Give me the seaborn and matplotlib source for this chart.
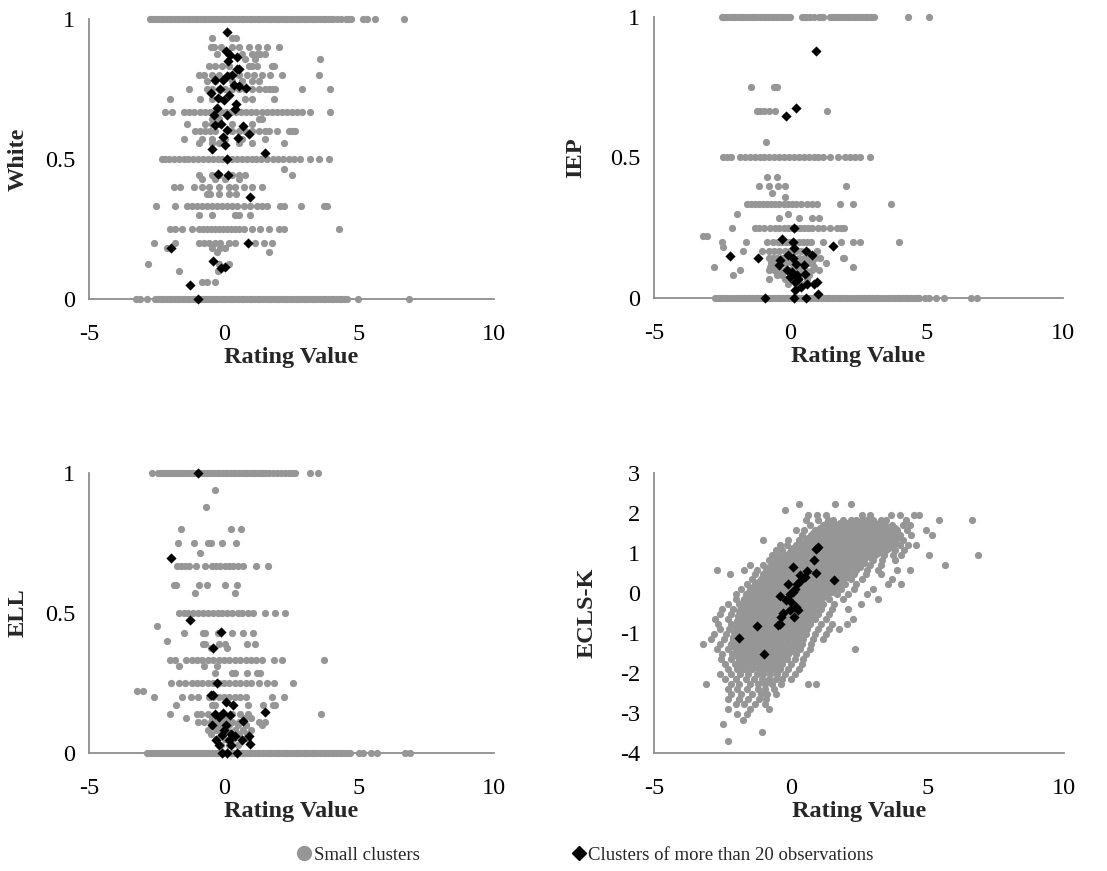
import pandas as pd
import matplotlib.pyplot as plt
import seaborn as sns
from matplotlib.lines import Line2D

# ---- White: small clusters, x positions grouped by share level ----
white_rows = {
    1.0: [-2.75, -2.65, -2.55, -2.45, -2.35, -2.25, -2.15, -2.05, -1.95, -1.85, -1.75, -1.65, -1.55, -1.45,
          -1.35, -1.25, -1.15, -1.05, -0.95, -0.85, -0.75, -0.65, -0.55, -0.45, -0.35, -0.25, -0.15, -0.05,
          0.05, 0.15, 0.25, 0.35, 0.45, 0.55, 0.65, 0.75, 0.85, 0.95, 1.05, 1.15, 1.25, 1.35, 1.45, 1.55,
          1.65, 1.75, 1.85, 1.95, 2.05, 2.15, 2.25, 2.35, 2.45, 2.55, 2.65, 2.75, 2.85, 2.95, 3.05, 3.15,
          3.25, 3.35, 3.45, 3.55, 3.65, 3.75, 3.85, 3.95, 4.05, 4.2, 4.35, 4.5, 4.6, 4.7, 5.15, 5.3, 5.6,
          6.65],
    0.933: [-0.44, 0.3, 0.44],
    0.9: [-0.5, -0.44, -0.38, -0.1, 0.3, 0.54, 0.91, 1.26, 1.6, 2.02],
    0.875: [-0.25, 0.18, 0.67, 1.04, 1.23, 1.33, 1.51],
    0.857: [0.79, 1.16, 3.57],
    0.833: [-0.57, -0.32, -0.07, 0.17, 0.91, 1.04, 1.23, 1.78, 1.84],
    0.8: [-0.94, -0.75, -0.44, -0.2, 0.17, 0.54, 0.86, 1.11, 1.41, 1.72, 2.15, 3.5],
    0.778: [-0.63, -0.32, 0.3, 0.67, 1.04, 1.28],
    0.75: [-1.31, -0.63, -0.44, -0.2, 0.05, 0.3, 0.54, 0.79, 1.04, 1.28, 1.53, 1.65, 1.78, 1.9, 2.89, 3.91],
    0.714: [-1.99, -0.88, -0.44, -0.14, 0.79, 1.04, 1.84],
    0.667: [-2.17, -1.93, -1.49, -1.3, -1.1, -0.9, -0.7, -0.51, -0.32, -0.13, 0.06, 0.25, 0.44, 0.63, 0.82,
            1.01, 1.2, 1.39, 1.58, 1.77, 1.96, 2.15, 2.34, 2.53, 2.7, 2.89, 3.2, 3.94],
    0.643: [-0.44, -0.2, 1.28, 1.41],
    0.625: [-1.37, -0.69, -0.44, -0.2, 0.3, 1.04],
    0.6: [-1.06, -0.88, -0.69, -0.51, -0.32, 0.3, 0.54, 0.79, 1.04, 1.28, 1.53, 1.65, 1.96, 2.4, 2.52, 2.64],
    0.571: [-1.49, -0.81, -0.44, 0.05, 0.67, 1.53],
    0.556: [-0.94, -0.44, -0.2, 0.54, 1.04, 2.21],
    0.5: [-2.3, -2.17, -2.05, -1.86, -1.68, -1.5, -1.32, -1.14, -0.96, -0.78, -0.6, -0.42, -0.24, -0.06,
          0.12, 0.3, 0.48, 0.66, 0.84, 1.02, 1.2, 1.38, 1.59, 1.8, 2.0, 2.2, 2.4, 2.6, 2.8, 3.2, 3.51, 3.88],
    0.464: [2.21],
    0.444: [-0.94, -0.44, -0.2, 0.3, 0.54, 0.79, 2.52],
    0.429: [-0.81, -0.32, 0.05, 0.54],
    0.4: [-1.86, -1.62, -1.12, -0.81, -0.57, -0.2, 0.17, 0.42, 0.73, 1.04, 1.41],
    0.375: [-0.63, -0.51, -0.2, 0.17, 0.44],
    0.333: [-2.51, -1.8, -1.37, -1.19, -1.0, -0.81, -0.63, -0.44, -0.26, -0.07, 0.11, 0.3, 0.48, 0.73,
            0.98, 1.22, 1.41, 1.59, 2.09, 2.21, 2.86, 3.69, 3.81],
    0.3: [-0.94, -0.44, 0.42, 0.54, 0.98],
    0.25: [-1.99, -1.8, -1.56, -1.19, -0.94, -0.79, -0.64, -0.49, -0.34, -0.19, -0.04, 0.11, 0.26, 0.41,
           0.56, 0.73, 1.04, 1.35, 1.65, 2.02, 2.21, 4.27],
    0.2: [-2.6, -1.8, -0.94, -0.75, -0.57, -0.32, -0.14, 0.17, 0.42, 1.16, 1.47, 1.78],
    0.182: [-2.11, -0.44, -0.14, 0.05],
    0.167: [-0.26, 1.65],
    0.125: [-2.83, -0.2, 0.17],
    0.1: [-1.68, -0.23],
    0.0625: [-0.81, -0.63, -0.35],
    0.0: [-3.25, -3.1, -2.85, -2.55, -2.45, -2.35, -2.25, -2.15, -2.05, -1.95, -1.85, -1.75, -1.65, -1.55,
          -1.45, -1.35, -1.25, -1.15, -1.05, -0.95, -0.85, -0.75, -0.65, -0.55, -0.45, -0.35, -0.25, -0.15,
          -0.05, 0.05, 0.15, 0.25, 0.35, 0.45, 0.55, 0.65, 0.75, 0.85, 0.95, 1.05, 1.15, 1.25, 1.35, 1.45,
          1.55, 1.65, 1.75, 1.85, 1.95, 2.05, 2.15, 2.25, 2.35, 2.45, 2.55, 2.65, 2.75, 2.85, 2.95, 3.05,
          3.15, 3.25, 3.35, 3.45, 3.55, 3.65, 3.75, 3.85, 3.95, 4.05, 4.15, 4.25, 4.35, 4.45, 4.55, 4.98,
          6.85],
}
white_big_x = [0.1, 0.07, 0.23, 0.15, 0.47, 0.54, 0.47, 0.3, 0.11, -0.32, -0.05, -0.16, 0.36, 0.81, 0.54,
               -0.49, 0.17, -0.24, 0.01, 0.44, 0.11, 0.42, -0.27, -0.38, -0.11, -0.32, 0.11, 0.69, 0.94,
               0.52, -0.04, 0.02, -0.45, 1.53, 0.1, -0.22, 0.15, 0.97, 0.89, -1.95, -0.42, 0.05, -0.12,
               -1.25, -0.98]
white_big_y = [0.952, 0.886, 0.87, 0.85, 0.865, 0.82, 0.82, 0.8, 0.796, 0.782, 0.782, 0.749, 0.764, 0.752,
               0.76, 0.737, 0.729, 0.717, 0.711, 0.696, 0.657, 0.679, 0.681, 0.657, 0.624, 0.62, 0.604,
               0.618, 0.589, 0.575, 0.577, 0.55, 0.535, 0.52, 0.5, 0.446, 0.444, 0.363, 0.201, 0.183, 0.136,
               0.115, 0.111, 0.049, 0.0]

# ---- IEP ----
iep_rows = {
    1.0: [-2.52, -2.42, -2.32, -2.22, -2.12, -2.02, -1.92, -1.82, -1.72, -1.62, -1.52, -1.42, -1.32, -1.22,
          -1.12, -1.02, -0.92, -0.82, -0.72, -0.62, -0.52, -0.42, -0.32, -0.22, -0.12, -0.02, 0.42, 0.52,
          0.62, 0.72, 0.85, 1.05, 1.15, 1.21, 1.46, 1.56, 1.66, 1.76, 1.86, 1.96, 2.06, 2.16, 2.26, 2.36,
          2.46, 2.56, 2.66, 2.76, 2.86, 2.96, 3.05, 4.33, 5.1],
    0.75: [-1.46, -0.6, -0.48],
    0.667: [-1.24, -1.1, -0.95, -0.8, -0.55, 1.33],
    0.556: [-0.91],
    0.5: [-2.46, -2.34, -2.16, -1.85, -1.67, -1.49, -1.31, -1.13, -0.95, -0.77, -0.59, -0.41, -0.23, -0.05,
          0.13, 0.31, 0.49, 0.67, 0.85, 1.03, 1.21, 1.46, 1.76, 2.01, 2.19, 2.37, 2.56, 2.93],
    0.43: [-0.87, -0.5],
    0.4: [-1.14, -0.77, -0.44, -0.2, 2.03],
    0.375: [-0.67],
    0.36: [-0.18],
    0.333: [-1.6, -1.45, -1.3, -1.15, -1.0, -0.85, -0.7, -0.55, -0.4, -0.25, -0.1, 0.05, 0.2, 0.4, 0.6,
            0.8, 0.97, 1.82, 2.31, 3.7],
    0.3: [-1.95, -0.07],
    0.286: [-0.4, 0.3, 0.8, 1.05],
    0.25: [-2.14, -1.3, -1.15, -0.95, -0.75, -0.55, -0.4, -0.25, -0.1, 0.05, 0.2, 0.35, 0.5, 0.65, 0.8,
           1.0, 1.2, 1.45, 1.7, 1.85, 1.95],
    0.222: [-3.19, -3.07],
    0.2: [-2.52, -1.64, -0.87, -0.62, -0.45, -0.3, -0.15, 0.0, 0.15, 0.3, 0.45, 0.6, 0.75, 1.21, 1.85,
          2.31, 2.56, 3.97],
    0.18: [-2.46],
    0.167: [-1.73, -1.05, -0.8, -0.6, -0.4, -0.2, 0.0, 0.2, 0.4, 0.6, 0.97],
    0.143: [-0.8, -0.65, -0.5, -0.3, -0.1, 0.1, 0.3, 0.5, 0.7, 0.9, 1.1, 1.92, 1.98],
    0.125: [-0.7, -0.5, -0.3, -0.15, 0.05, 0.25, 0.45, 0.65, 0.8, 1.3],
    0.111: [-2.8, -0.75, -0.55, 0.15, 0.5, 0.85, 2.31],
    0.1: [-1.85, -0.8, -0.6, -0.4, -0.2, 0.0, 0.3, 0.55, 0.8, 1.05],
    0.083: [-2.09, -0.5, -0.3, 0.1, 0.4, 0.7],
    0.067: [-0.77, -0.2, 0.3, 0.6],
    0.05: [-0.1, 0.2, 0.5],
    0.0: [-2.77, -2.67, -2.57, -2.47, -2.37, -2.27, -2.17, -2.07, -1.97, -1.87, -1.77, -1.67, -1.57, -1.47,
          -1.37, -1.27, -1.17, -1.07, -0.97, -0.87, -0.77, -0.67, -0.57, -0.47, -0.37, -0.27, -0.17, -0.07,
          0.03, 0.13, 0.23, 0.33, 0.43, 0.53, 0.63, 0.73, 0.83, 0.93, 1.03, 1.13, 1.23, 1.33, 1.43, 1.53,
          1.63, 1.73, 1.83, 1.93, 2.03, 2.13, 2.23, 2.33, 2.43, 2.53, 2.63, 2.73, 2.83, 2.93, 3.03, 3.13,
          3.23, 3.33, 3.43, 3.53, 3.63, 3.73, 3.83, 3.93, 4.03, 4.13, 4.23, 4.33, 4.43, 4.53, 4.63, 4.73,
          4.94, 5.1, 5.35, 5.62, 6.62, 6.84],
}
iep_big_x = [0.94, 0.2, -0.16, 0.12, -0.31, 0.09, 1.58, 0.13, 0.58, -2.21, -1.2, 0.78, -0.1, 0.11, -0.38,
             0.21, -0.4, 0.51, -0.13, 0.05, 0.23, 0.54, -0.01, 0.29, 0.17, 0.6, 0.97, 0.87, 0.38, 0.16,
             1.03, -0.93, 0.15, 0.56]
iep_big_y = [0.879, 0.676, 0.647, 0.248, 0.21, 0.199, 0.184, 0.179, 0.166, 0.149, 0.142, 0.152, 0.152,
             0.144, 0.134, 0.122, 0.116, 0.116, 0.1, 0.093, 0.083, 0.084, 0.075, 0.069, 0.057, 0.051, 0.057,
             0.051, 0.039, 0.03, 0.015, 0.0, 0.0, 0.0]

# ---- ELL ----
ell_rows = {
    1.0: [-2.68, -2.44, -2.34, -2.24, -2.14, -2.04, -1.94, -1.84, -1.74, -1.64, -1.54, -1.44, -1.34, -1.24,
          -1.14, -1.04, -0.94, -0.84, -0.74, -0.64, -0.54, -0.44, -0.34, -0.24, -0.14, -0.04, 0.06, 0.16,
          0.26, 0.36, 0.46, 0.56, 0.66, 0.76, 0.86, 0.96, 1.06, 1.16, 1.26, 1.36, 1.46, 1.56, 1.66, 1.8,
          1.95, 2.1, 2.25, 2.4, 2.52, 2.64, 3.2, 3.48],
    0.94: [-0.35],
    0.88: [-0.67],
    0.8: [-1.6, 0.27, 0.62],
    0.75: [-1.72, -1.12, -0.6, -0.48, -0.07, 0.44],
    0.714: [-0.9],
    0.667: [-1.74, -1.6, -1.45, -1.3, -1.05, -0.7, -0.45, -0.3, -0.15, 0.05, 0.2, 0.35, 0.5, 0.7, 1.2, 1.63],
    0.6: [-1.86, -1.78, -0.94, -0.63, 0.05, 0.48],
    0.571: [-1.07, 0.42],
    0.5: [-1.68, -1.5, -1.32, -1.14, -0.96, -0.78, -0.6, -0.42, -0.24, -0.06, 0.12, 0.3, 0.5, 0.68, 0.9,
          1.08, 1.53, 1.88, 2.27],
    0.455: [-2.47],
    0.429: [-1.49, -0.78, -0.69, -0.23, 0.3, 0.7, 1.06],
    0.4: [-2.1],
    0.39: [-0.78, -0.69, -0.2, 0.05, 0.85, 1.14],
    0.375: [-0.5, 0.12],
    0.333: [-1.99, -1.8, -1.4, -1.2, -1.0, -0.8, -0.6, -0.4, -0.2, 0.0, 0.2, 0.4, 0.6, 0.8, 1.0, 1.2, 1.4,
            1.85, 2.15, 3.69],
    0.31: [-1.68, -0.75, -0.26],
    0.286: [-0.32, 0.3, 0.42, 0.85, 1.22, 1.35],
    0.25: [-1.96, -1.68, -1.45, -1.2, -1.0, -0.8, -0.6, -0.4, -0.2, 0.0, 0.2, 0.4, 0.6, 0.8, 1.0, 1.3,
           1.6, 1.85, 2.55],
    0.222: [-3.21, -3.01],
    0.2: [-2.6, -1.56, -1.21, -0.96, -0.57, -0.4, -0.2, 0.0, 0.2, 0.4, 0.6, 0.8, 1.78, 2.21],
    0.17: [-1.76, -0.44, -0.32, 0.89, 1.45, 1.8, 1.9],
    0.14: [-1.99, -1.0, -0.85, -0.6, 0.3, 0.6, 0.9, 3.6],
    0.125: [-1.4, -0.45, 0.1, 0.75, 1.0],
    0.111: [-0.96, -0.75, -0.5, -0.25, 0.0, 0.3, 0.55, 1.28, 1.53],
    0.1: [-0.44, -0.2, 0.2, 0.5, 0.8, 1.41],
    0.083: [-0.6, -0.3, 0.1, 0.4, 0.7, 1.0],
    0.067: [-0.5, -0.1, 0.25, 0.55, 0.85],
    0.05: [-0.3, 0.05, 0.35, 0.65, 0.9],
    0.03: [-0.1, 0.2, 0.5],
    0.0: [-2.85, -2.75, -2.65, -2.55, -2.45, -2.35, -2.25, -2.15, -2.05, -1.95, -1.85, -1.75, -1.65, -1.55,
          -1.45, -1.35, -1.25, -1.15, -1.05, -0.95, -0.85, -0.75, -0.65, -0.55, -0.45, -0.35, -0.25, -0.15,
          -0.05, 0.05, 0.15, 0.25, 0.35, 0.45, 0.55, 0.65, 0.75, 0.85, 0.95, 1.05, 1.15, 1.25, 1.35, 1.45,
          1.55, 1.65, 1.75, 1.85, 1.95, 2.05, 2.15, 2.25, 2.35, 2.45, 2.55, 2.65, 2.75, 2.85, 2.95, 3.05,
          3.15, 3.25, 3.35, 3.45, 3.55, 3.65, 3.75, 3.85, 3.95, 4.05, 4.15, 4.25, 4.35, 4.45, 4.55, 4.65,
          5.0, 5.15, 5.45, 5.65, 6.7, 6.9],
}
ell_big_x = [-0.98, -1.95, -1.26, -0.12, -0.42, -0.27, -0.49, -0.4, 0.09, 0.33, 1.53, -0.35, -0.04, 0.23,
             -0.2, 0.7, -0.45, 0.09, 0.0, 0.27, -0.07, -0.3, 0.42, 0.91, 0.17, 0.67, 0.97, -0.2, 0.27,
             0.49, -0.07, 0.12]
ell_big_y = [1.0, 0.696, 0.476, 0.431, 0.375, 0.25, 0.206, 0.206, 0.182, 0.17, 0.146, 0.14, 0.144, 0.135,
             0.129, 0.114, 0.099, 0.099, 0.083, 0.069, 0.063, 0.045, 0.061, 0.061, 0.045, 0.045, 0.033,
             0.027, 0.027, 0.0, 0.0, 0.0]

# ---- ECLS-K: small clusters, x positions grouped by score row ----
ecls_rows = {
    2.22: [0.29, 1.61, 2.22],
    2.08: [-0.22],
    1.95: [0.65, 0.95, 1.3, 2.6, 2.9, 3.68, 3.99, 4.5, 4.68],
    1.83: [0.55, 1.0, 1.35, 1.55, 1.9, 2.2, 2.4, 2.6, 2.8, 3.0, 3.3, 3.5, 4.2, 5.43, 6.63],
    1.7: [0.7, 1.2, 1.45, 1.7, 1.95, 2.2, 2.45, 2.7, 2.95, 3.2, 3.45, 3.7, 4.1, 4.35],
    1.57: [0.2, 0.5, 0.9, 1.15, 1.4, 1.65, 1.9, 2.15, 2.4, 2.65, 2.9, 3.15, 3.4, 3.65, 3.9, 4.25, 4.94],
    1.45: [0.4, 0.75, 1.0, 1.25, 1.5, 1.75, 2.0, 2.25, 2.5, 2.75, 3.0, 3.25, 3.5, 3.75, 4.0, 4.4, 5.17],
    1.32: [-1.01, -0.1, 0.3, 0.55, 0.8, 1.05, 1.3, 1.55, 1.8, 2.05, 2.3, 2.55, 2.8, 3.05, 3.3, 3.55, 3.8,
           4.1],
    1.2: [-0.4, -0.15, 0.2, 0.45, 0.7, 0.95, 1.2, 1.45, 1.7, 1.95, 2.2, 2.45, 2.7, 2.95, 3.2, 3.45, 3.7,
          4.0, 4.3, 4.6],
    1.07: [-0.55, -0.3, 0.0, 0.25, 0.5, 0.75, 1.0, 1.25, 1.5, 1.75, 2.0, 2.25, 2.5, 2.75, 3.0, 3.25, 3.5,
           3.8, 4.15],
    0.95: [-0.7, -0.45, -0.2, 0.05, 0.3, 0.55, 0.8, 1.05, 1.3, 1.55, 1.8, 2.05, 2.3, 2.55, 2.8, 3.1, 3.4,
           3.75, 4.05, 5.06, 6.85],
    0.82: [-0.8, -0.55, -0.3, -0.05, 0.2, 0.45, 0.7, 0.95, 1.2, 1.45, 1.7, 1.95, 2.2, 2.45, 2.7, 3.0, 3.35,
           3.8],
    0.7: [-1.5, -1.0, -0.7, -0.45, -0.2, 0.05, 0.3, 0.55, 0.8, 1.05, 1.3, 1.55, 1.8, 2.05, 2.3, 2.55, 2.9,
          3.3, 5.63],
    0.58: [-2.7, -1.71, -1.25, -0.9, -0.65, -0.4, -0.15, 0.1, 0.35, 0.6, 0.85, 1.1, 1.35, 1.6, 1.85, 2.1,
           2.4, 2.8, 3.2, 3.9, 4.35],
    0.47: [-2.23, -1.3, -1.0, -0.75, -0.5, -0.25, 0.0, 0.25, 0.5, 0.75, 1.0, 1.25, 1.5, 1.75, 2.0, 2.3,
           2.75, 3.3],
    0.35: [-1.4, -1.1, -0.85, -0.6, -0.35, -0.1, 0.15, 0.4, 0.65, 0.9, 1.15, 1.4, 1.65, 1.9, 2.2, 2.6, 3.7],
    0.22: [-1.6, -1.3, -1.05, -0.8, -0.55, -0.3, -0.05, 0.2, 0.45, 0.7, 0.95, 1.2, 1.45, 1.7, 2.0, 2.4,
           3.56, 4.05],
    0.1: [-1.8, -1.5, -1.25, -1.0, -0.75, -0.5, -0.25, 0.0, 0.25, 0.5, 0.75, 1.0, 1.25, 1.5, 1.85, 2.3, 3.0],
    -0.03: [-2.0, -1.65, -1.4, -1.15, -0.9, -0.65, -0.4, -0.15, 0.1, 0.35, 0.6, 0.85, 1.1, 1.35, 1.7, 2.1,
            2.8],
    -0.15: [-2.0, -1.7, -1.45, -1.2, -0.95, -0.7, -0.45, -0.2, 0.05, 0.3, 0.55, 0.8, 1.05, 1.4, 1.9, 3.2],
    -0.28: [-2.3, -1.9, -1.6, -1.35, -1.1, -0.85, -0.6, -0.35, -0.1, 0.15, 0.4, 0.65, 0.9, 1.2, 1.6, 2.59],
    -0.4: [-2.5, -2.1, -1.75, -1.5, -1.25, -1.0, -0.75, -0.5, -0.25, 0.0, 0.25, 0.5, 0.75, 1.1, 1.5, 2.1],
    -0.52: [-2.6, -2.2, -1.85, -1.6, -1.35, -1.1, -0.85, -0.6, -0.35, -0.1, 0.15, 0.4, 0.65, 1.0, 1.4],
    -0.65: [-2.78, -2.3, -1.9, -1.65, -1.4, -1.15, -0.9, -0.65, -0.4, -0.15, 0.1, 0.35, 0.6, 0.9, 1.3, 2.28],
    -0.78: [-2.65, -2.2, -1.9, -1.65, -1.4, -1.15, -0.9, -0.65, -0.4, -0.15, 0.1, 0.35, 0.7, 1.1, 1.5, 2.06],
    -0.9: [-2.6, -2.25, -1.95, -1.7, -1.45, -1.2, -0.95, -0.7, -0.45, -0.2, 0.05, 0.3, 0.6, 1.0, 1.4, 1.77],
    -1.03: [-2.8, -2.35, -2.0, -1.75, -1.5, -1.25, -1.0, -0.75, -0.5, -0.25, 0.0, 0.25, 0.55, 0.9, 1.3],
    -1.15: [-2.9, -2.45, -2.1, -1.85, -1.6, -1.35, -1.1, -0.85, -0.6, -0.35, -0.1, 0.15, 0.45, 0.8, 1.2],
    -1.28: [-3.21, -2.6, -2.2, -1.9, -1.65, -1.4, -1.15, -0.9, -0.65, -0.4, -0.15, 0.1, 0.4, 0.75],
    -1.4: [-2.7, -2.3, -2.0, -1.75, -1.5, -1.25, -1.0, -0.75, -0.5, -0.25, 0.0, 0.35, 0.7, 2.34],
    -1.52: [-2.5, -2.15, -1.85, -1.6, -1.35, -1.1, -0.85, -0.6, -0.35, -0.1, 0.2, 0.55],
    -1.65: [-2.55, -2.2, -1.9, -1.65, -1.4, -1.15, -0.9, -0.65, -0.4, -0.15, 0.15, 0.45],
    -1.78: [-2.4, -2.05, -1.8, -1.55, -1.3, -1.05, -0.8, -0.55, -0.3, 0.0, 0.4],
    -1.9: [-2.3, -1.95, -1.7, -1.4, -1.15, -0.9, -0.65, -0.4, -0.1, 0.3],
    -2.03: [-2.6, -2.2, -1.85, -1.55, -1.25, -1.0, -0.75, -0.5, -0.2, 0.15],
    -2.15: [-2.4, -2.0, -1.65, -1.35, -1.05, -0.8, -0.55, -0.3, 0.0],
    -2.28: [-3.09, -2.2, -1.9, -1.5, -1.2, -0.95, -0.7, -0.35, 0.63, 0.94],
    -2.4: [-2.3, -1.95, -1.6, -1.2, -0.95, -0.6],
    -2.52: [-2.2, -1.8, -1.4, -1.1, -0.85, -0.55],
    -2.65: [-2.3, -1.9, -1.55, -1.15, -0.9],
    -2.78: [-2.0, -1.7, -1.3, -0.95],
    -2.9: [-2.3, -1.5, -0.79],
    -3.03: [-1.95, -1.6],
    -3.18: [-1.74],
    -3.27: [-2.48],
    -3.48: [-1.05],
    -3.7: [-2.29],
}
# the solid core of the ECLS-K cloud, read between the rows above
ecls_core_rows = {
    1.76: [1.32, 1.57, 1.82, 2.07, 2.32, 2.57, 2.82, 3.07, 3.32],
    1.63: [1.07, 1.32, 1.57, 1.82, 2.07, 2.32, 2.57, 2.82, 3.07, 3.32, 3.57, 3.8],
    1.51: [0.82, 1.07, 1.32, 1.57, 1.82, 2.07, 2.32, 2.57, 2.82, 3.07, 3.32, 3.57, 3.85],
    1.38: [0.62, 0.87, 1.12, 1.37, 1.62, 1.87, 2.12, 2.37, 2.62, 2.87, 3.12, 3.37, 3.62, 3.9],
    1.26: [0.32, 0.57, 0.82, 1.07, 1.32, 1.57, 1.82, 2.07, 2.32, 2.57, 2.82, 3.07, 3.32, 3.57, 3.85],
    1.13: [0.07, 0.32, 0.57, 0.82, 1.07, 1.32, 1.57, 1.82, 2.07, 2.32, 2.57, 2.82, 3.07, 3.32, 3.6],
    1.01: [-0.08, 0.17, 0.42, 0.67, 0.92, 1.17, 1.42, 1.67, 1.92, 2.17, 2.42, 2.67, 2.92, 3.2],
    0.88: [-0.33, -0.08, 0.17, 0.42, 0.67, 0.92, 1.17, 1.42, 1.67, 1.92, 2.17, 2.42, 2.67, 2.92],
    0.76: [-0.58, -0.33, -0.08, 0.17, 0.42, 0.67, 0.92, 1.17, 1.42, 1.67, 1.92, 2.17, 2.42, 2.7],
    0.64: [-0.78, -0.53, -0.28, -0.03, 0.22, 0.47, 0.72, 0.97, 1.22, 1.47, 1.72, 1.97, 2.22, 2.55],
    0.52: [-0.88, -0.63, -0.38, -0.13, 0.12, 0.37, 0.62, 0.87, 1.12, 1.37, 1.62, 1.87, 2.15],
    0.41: [-0.98, -0.73, -0.48, -0.23, 0.02, 0.27, 0.52, 0.77, 1.02, 1.27, 1.52, 1.77, 2.05],
    0.28: [-1.18, -0.93, -0.68, -0.43, -0.18, 0.07, 0.32, 0.57, 0.82, 1.07, 1.32, 1.57, 1.85],
    0.16: [-1.38, -1.13, -0.88, -0.63, -0.38, -0.13, 0.12, 0.37, 0.62, 0.87, 1.12, 1.37, 1.65],
    0.03: [-1.53, -1.28, -1.03, -0.78, -0.53, -0.28, -0.03, 0.22, 0.47, 0.72, 0.97, 1.22, 1.5],
    -0.09: [-1.58, -1.33, -1.08, -0.83, -0.58, -0.33, -0.08, 0.17, 0.42, 0.67, 0.92, 1.2],
    -0.22: [-1.73, -1.48, -1.23, -0.98, -0.73, -0.48, -0.23, 0.02, 0.27, 0.52, 0.77, 1.05],
    -0.34: [-1.83, -1.58, -1.33, -1.08, -0.83, -0.58, -0.33, -0.08, 0.17, 0.42, 0.67, 0.95],
    -0.46: [-1.88, -1.63, -1.38, -1.13, -0.88, -0.63, -0.38, -0.13, 0.12, 0.37, 0.62, 0.88],
    -0.58: [-1.93, -1.68, -1.43, -1.18, -0.93, -0.68, -0.43, -0.18, 0.07, 0.32, 0.57, 0.8],
    -0.71: [-1.98, -1.73, -1.48, -1.23, -0.98, -0.73, -0.48, -0.23, 0.02, 0.27, 0.52, 0.7],
    -0.84: [-2.0, -1.77, -1.52, -1.27, -1.02, -0.77, -0.52, -0.27, -0.02, 0.23, 0.48, 0.6],
    -0.97: [-2.08, -1.83, -1.58, -1.33, -1.08, -0.83, -0.58, -0.33, -0.08, 0.17, 0.45],
    -1.09: [-2.1, -1.88, -1.63, -1.38, -1.13, -0.88, -0.63, -0.38, -0.13, 0.12, 0.38],
    -1.22: [-2.1, -1.88, -1.63, -1.38, -1.13, -0.88, -0.63, -0.38, -0.13, 0.12, 0.3],
    -1.34: [-2.08, -1.83, -1.58, -1.33, -1.08, -0.83, -0.58, -0.33, -0.08, 0.2],
    -1.46: [-2.0, -1.73, -1.48, -1.23, -0.98, -0.73, -0.48, -0.23, 0.0],
    -1.58: [-1.98, -1.73, -1.48, -1.23, -0.98, -0.73, -0.48, -0.2],
    -1.71: [-1.9, -1.65, -1.4, -1.15, -0.9, -0.65, -0.3],
    -1.84: [-1.8, -1.55, -1.3, -1.05, -0.8, -0.5],
}
ecls_big_x = [1.0, 0.94, 0.84, 0.09, 0.61, 0.94, 0.33, 0.51, 1.57, 0.39, 0.23, -0.1, 0.15, 0.09, -0.04,
              -0.4, -0.18, 0.02, 0.21, 0.27, -0.28, -0.04, -0.34, 0.12, -0.4, -0.46, -1.22, -1.9, -0.96]
ecls_big_y = [1.15, 1.11, 0.82, 0.65, 0.55, 0.5, 0.44, 0.4, 0.33, 0.32, 0.23, 0.23, 0.11, 0.03, -0.02,
              -0.08, -0.18, -0.23, -0.35, -0.43, -0.5, -0.42, -0.6, -0.6, -0.77, -0.81, -0.83, -1.13, -1.52]

GRAY = "#969696"
AXIS = "#8f8f8f"


def rows_to_frame(*row_sets):
    xs, ys = [], []
    for rows in row_sets:
        for level, vals in rows.items():
            xs += vals
            ys += [level] * len(vals)
    return pd.DataFrame({"x": xs, "y": ys})


sns.set_style("white")
plt.rcParams["font.family"] = ["Liberation Serif", "DejaVu Serif"]
plt.rcParams["axes.unicode_minus"] = False

fig = plt.figure(figsize=(11.07, 8.71), dpi=100)
rects = [
    [0.0804, 0.6567, 0.3659, 0.3215],
    [0.5908, 0.6579, 0.3695, 0.3226],
    [0.0804, 0.1355, 0.3659, 0.3215],
    [0.5908, 0.1355, 0.3704, 0.3215],
]
panels = [
    ("White", [white_rows], white_big_x, white_big_y, (0, 1), [0, 0.5, 1], ["0", "0.5", "1"], -0.15),
    ("IEP", [iep_rows], iep_big_x, iep_big_y, (0, 1), [0, 0.5, 1], ["0", "0.5", "1"], -0.165),
    ("ELL", [ell_rows], ell_big_x, ell_big_y, (0, 1), [0, 0.5, 1], ["0", "0.5", "1"], -0.15),
    ("ECLS-K", [ecls_rows, ecls_core_rows], ecls_big_x, ecls_big_y, (-4, 3), list(range(-4, 4)),
     [str(v) for v in range(-4, 4)], -0.137),
]

for rect, (name, row_sets, bx, by, ylim, yticks, ylabels, lab_x) in zip(rects, panels):
    ax = fig.add_axes(rect)
    small = rows_to_frame(*row_sets)
    big = pd.DataFrame({"x": bx, "y": by})
    sns.scatterplot(data=small, x="x", y="y", ax=ax, color=GRAY, s=27, linewidth=0,
                    clip_on=False, zorder=3)
    sns.scatterplot(data=big, x="x", y="y", ax=ax, color="black", marker="D", s=27, linewidth=0,
                    clip_on=False, zorder=4)
    ax.set_xlim(-5, 10)
    ax.set_xticks([-5, 0, 5, 10])
    ax.set_xticklabels(["-5", "0", "5", "10"])
    ax.set_ylim(*ylim)
    ax.set_yticks(yticks)
    ax.set_yticklabels(ylabels)
    for side in ["top", "right"]:
        ax.spines[side].set_visible(False)
    for side in ["left", "bottom"]:
        ax.spines[side].set_color(AXIS)
        ax.spines[side].set_linewidth(1.3)
    ax.tick_params(axis="both", direction="out", length=5, width=1.3, color=AXIS,
                   labelsize=17.5, labelcolor="black")
    ax.tick_params(axis="x", pad=13)
    ax.tick_params(axis="y", pad=5)
    ax.set_xlabel("Rating Value", fontsize=17.5, fontweight="bold")
    ax.xaxis.set_label_coords(0.5, -0.17)
    ax.set_ylabel(name, fontsize=17.5, fontweight="bold")
    ax.yaxis.set_label_coords(lab_x, 0.5)
    ax.set_facecolor("white")

handles = [
    Line2D([], [], marker="o", color=GRAY, linestyle="", markersize=10),
    Line2D([], [], marker="D", color="black", linestyle="", markersize=7),
]
fig.legend(handles, ["Small clusters", "Clusters of more than 20 observations"],
           loc="center", bbox_to_anchor=(0.528, 0.018), ncol=2, frameon=False,
           fontsize=13.5, handletextpad=0.0, columnspacing=8, handlelength=1.0)

fig.savefig("out.png", dpi=100, facecolor="white")
